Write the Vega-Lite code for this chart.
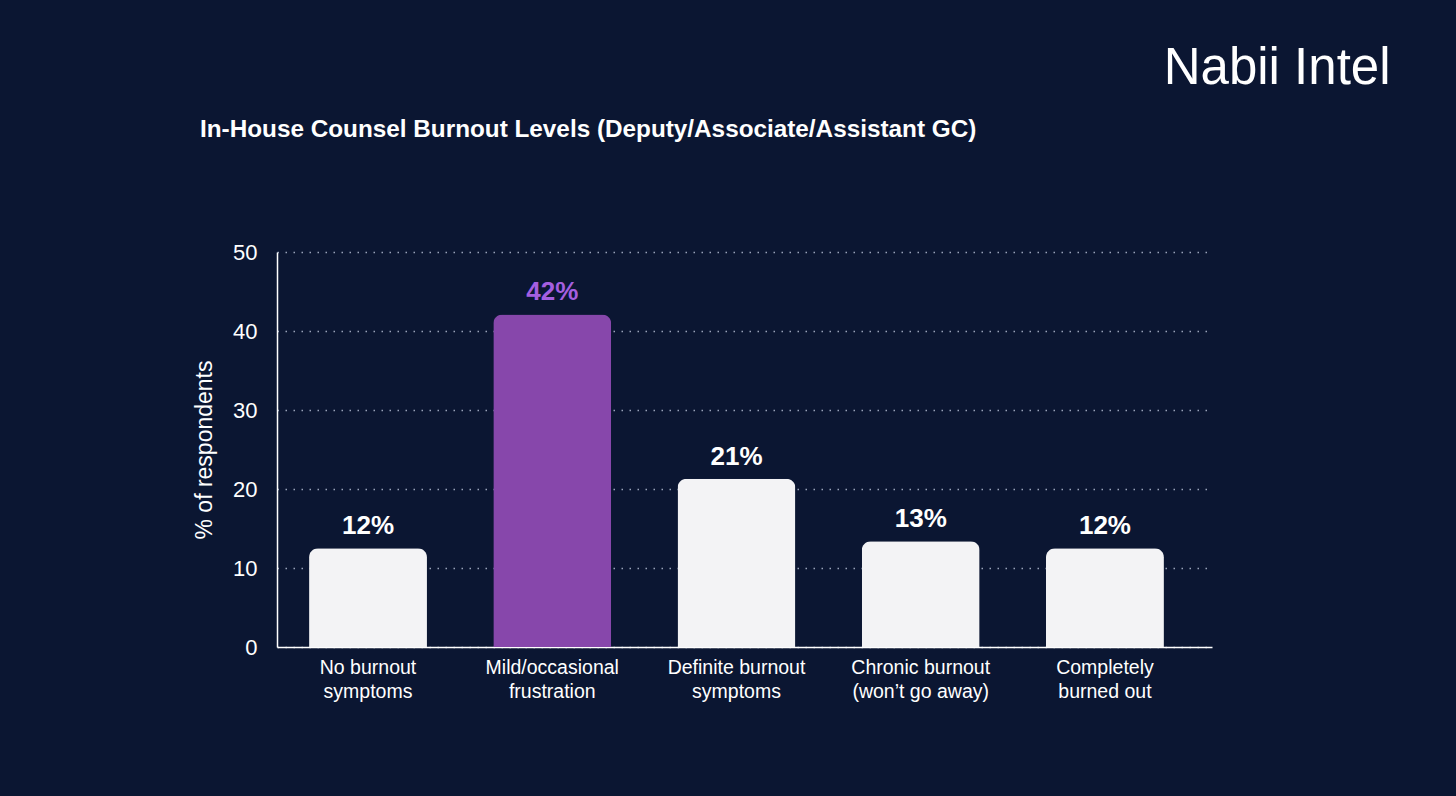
{
  "$schema": "https://vega.github.io/schema/vega-lite/v6.json",
  "autosize": {"type": "none"},
  "width": 935,
  "height": 395,
  "padding": {"left": 277, "top": 252, "right": 244, "bottom": 149},
  "background": "#0b1632",
  "config": {
    "view": {"stroke": null},
    "font": "Liberation Sans"
  },
  "title": {
    "text": "In-House Counsel Burnout Levels (Deputy/Associate/Assistant GC)",
    "anchor": "start",
    "frame": "group",
    "dx": -77,
    "offset": -119,
    "baseline": "alphabetic",
    "font": "Liberation Sans",
    "fontSize": 24.3,
    "fontWeight": "bold",
    "color": "#ffffff"
  },
  "data": {
    "values": [
      {"category": "No burnout|symptoms", "value": 12.5, "label": "12%", "highlight": "no"},
      {"category": "Mild/occasional|frustration", "value": 42.1, "label": "42%", "highlight": "yes"},
      {"category": "Definite burnout|symptoms", "value": 21.3, "label": "21%", "highlight": "no"},
      {"category": "Chronic burnout|(won’t go away)", "value": 13.4, "label": "13%", "highlight": "no"},
      {"category": "Completely|burned out", "value": 12.5, "label": "12%", "highlight": "no"}
    ]
  },
  "encoding": {
    "x": {
      "field": "category",
      "type": "nominal",
      "sort": null,
      "scale": {"paddingInner": 0.36, "paddingOuter": 0.2175, "align": 0.4},
      "axis": {
        "title": null,
        "labelAngle": 0,
        "labelExpr": "split(datum.label, '|')",
        "labelFont": "Liberation Sans",
        "labelFontSize": 19.5,
        "labelColor": "#ffffff",
        "labelLineHeight": 24,
        "labelPadding": 11,
        "ticks": false,
        "domainColor": "#ffffff",
        "domainWidth": 1.5,
        "grid": false
      }
    }
  },
  "layer": [
    {
      "mark": {"type": "bar", "cornerRadiusTopLeft": 9, "cornerRadiusTopRight": 9},
      "encoding": {
        "y": {
          "field": "value",
          "type": "quantitative",
          "scale": {"domain": [0, 50]},
          "axis": {
            "title": "% of respondents",
            "titleFont": "Liberation Sans",
            "titleFontSize": 23,
            "titleFontWeight": "normal",
            "titleColor": "#ffffff",
            "titlePadding": 16,
            "values": [0, 10, 20, 30, 40, 50],
            "labelFont": "Liberation Sans",
            "labelFontSize": 22,
            "labelColor": "#ffffff",
            "labelPadding": 20,
            "ticks": false,
            "domainColor": "#ffffff",
            "domainWidth": 1.5,
            "grid": true,
            "gridColor": "#9aa3ba",
            "gridDash": [1.5, 6.5],
            "gridWidth": 1.5
          }
        },
        "color": {
          "field": "highlight",
          "type": "nominal",
          "scale": {"domain": ["no", "yes"], "range": ["#f3f3f5", "#8747ab"]},
          "legend": null
        }
      }
    },
    {
      "mark": {"type": "text", "baseline": "alphabetic", "dy": -14, "font": "Liberation Sans", "fontSize": 26, "fontWeight": "bold"},
      "encoding": {
        "y": {
          "field": "value",
          "type": "quantitative",
          "axis": {
            "orient": "right",
            "title": "Nabii Intel",
            "titleAngle": 0,
            "titleAlign": "right",
            "titleBaseline": "alphabetic",
            "titleX": 178,
            "titleY": -169,
            "titleFont": "Liberation Sans",
            "titleFontSize": 51,
            "titleFontWeight": "normal",
            "titleColor": "#ffffff",
            "labels": false,
            "ticks": false,
            "domain": false,
            "grid": false
          }
        },
        "text": {"field": "label"},
        "color": {
          "field": "highlight",
          "type": "nominal",
          "scale": {"domain": ["no", "yes"], "range": ["#ffffff", "#a45fe0"]},
          "legend": null
        }
      }
    }
  ],
  "resolve": {"scale": {"color": "independent"}, "axis": {"y": "independent"}}
}
